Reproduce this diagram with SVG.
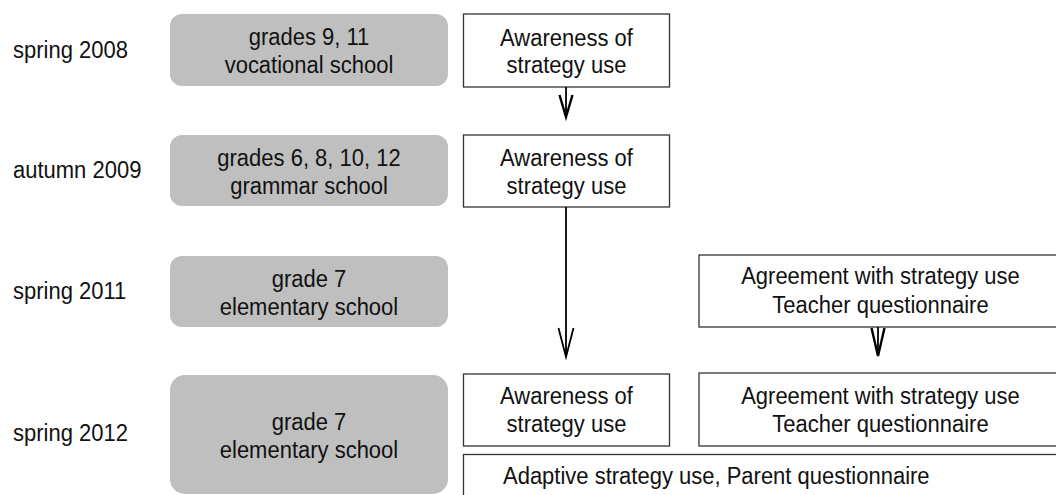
<svg xmlns="http://www.w3.org/2000/svg" width="1056" height="495" viewBox="0 0 1056 495">
<style>
text{font-family:"Liberation Sans",Arial,sans-serif;font-size:22px;fill:#111}
.c{text-anchor:middle}
.g{fill:#bfbfbf;stroke:none}
.w{fill:#fff;stroke:#333;stroke-width:1.3}
.ln{stroke:#000;stroke-width:1.8;fill:none}
.hd{stroke:#000;stroke-width:2.4;fill:none;stroke-linejoin:miter}
</style>
<g id="labels">
<text x="13" y="0" transform="translate(0,58) scale(1,1.12)">spring 2008</text>
<text x="13" y="0" transform="translate(0,178) scale(1,1.12)">autumn 2009</text>
<text x="13" y="0" transform="translate(0,299) scale(1,1.12)">spring 2011</text>
<text x="13" y="0" transform="translate(0,441) scale(1,1.12)">spring 2012</text>
</g>
<g id="g2008"><rect class="g" x="170" y="14" width="278" height="72" rx="12"/>
<text class="c" x="309" y="0" transform="translate(0,45) scale(1,1.12)">grades 9, 11</text><text class="c" x="309" y="0" transform="translate(0,73) scale(1,1.12)">vocational school</text></g>
<g id="g2009"><rect class="g" x="170" y="135" width="278" height="71" rx="12"/>
<text class="c" x="309" y="0" transform="translate(0,166) scale(1,1.12)">grades 6, 8, 10, 12</text><text class="c" x="309" y="0" transform="translate(0,194) scale(1,1.12)">grammar school</text></g>
<g id="g2011"><rect class="g" x="170" y="256" width="278" height="71" rx="12"/>
<text class="c" x="309" y="0" transform="translate(0,287) scale(1,1.12)">grade 7</text><text class="c" x="309" y="0" transform="translate(0,315) scale(1,1.12)">elementary school</text></g>
<g id="g2012"><rect class="g" x="170" y="375" width="278" height="119" rx="15"/>
<text class="c" x="309" y="0" transform="translate(0,430) scale(1,1.12)">grade 7</text><text class="c" x="309" y="0" transform="translate(0,458) scale(1,1.12)">elementary school</text></g>
<g id="aw2008"><rect class="w" x="463.5" y="14" width="206" height="73"/>
<text class="c" x="566.5" y="0" transform="translate(0,46) scale(1,1.12)">Awareness of</text><text class="c" x="566.5" y="0" transform="translate(0,73) scale(1,1.12)">strategy use</text></g>
<g id="aw2009"><rect class="w" x="463.5" y="135" width="206" height="72"/>
<text class="c" x="566.5" y="0" transform="translate(0,166) scale(1,1.12)">Awareness of</text><text class="c" x="566.5" y="0" transform="translate(0,194) scale(1,1.12)">strategy use</text></g>
<g id="ag2011"><rect class="w" x="699" y="255" width="363" height="72"/>
<text class="c" x="880.5" y="0" transform="translate(0,284) scale(1,1.12)">Agreement with strategy use</text><text class="c" x="880.5" y="0" transform="translate(0,313) scale(1,1.12)">Teacher questionnaire</text></g>
<g id="aw2012"><rect class="w" x="463.5" y="374" width="206" height="72"/>
<text class="c" x="566.5" y="0" transform="translate(0,404) scale(1,1.12)">Awareness of</text><text class="c" x="566.5" y="0" transform="translate(0,432) scale(1,1.12)">strategy use</text></g>
<g id="ag2012"><rect class="w" x="699" y="373" width="363" height="73"/>
<text class="c" x="880.5" y="0" transform="translate(0,404) scale(1,1.12)">Agreement with strategy use</text><text class="c" x="880.5" y="0" transform="translate(0,432) scale(1,1.12)">Teacher questionnaire</text></g>
<g id="adaptive"><rect class="w" x="463.5" y="454.5" width="620" height="60"/>
<text x="503" y="0" transform="translate(0,484) scale(1,1.12)">Adaptive strategy use, Parent questionnaire</text></g>
<g id="connectors">
<line class="ln" x1="566" y1="87" x2="566" y2="117"/>
<polyline class="hd" points="559.5,95 566,117 572.5,95"/>
<line class="ln" x1="566" y1="207" x2="566" y2="356"/>
<polyline class="ln" points="558.5,328 566,357 573.5,328"/>
<line class="ln" x1="878" y1="327" x2="878" y2="356"/>
<polyline class="hd" points="871.5,328 878,356 884.5,328"/>
</g>
</svg>
